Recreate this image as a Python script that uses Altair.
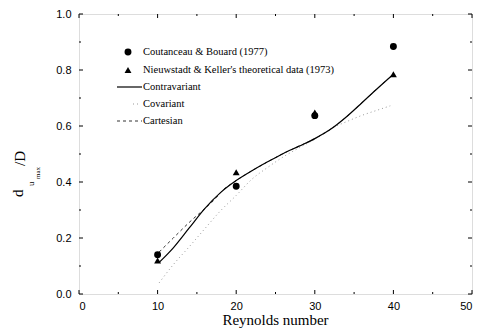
import altair as alt
import pandas as pd

# ---- data ----
re_exp = [10, 20, 30, 40]
coutanceau = [0.14, 0.385, 0.637, 0.884]
nieuwstadt = [0.12, 0.435, 0.648, 0.785]

contra_re = [10.2, 12, 14, 16, 18, 20, 22, 24, 26, 28, 30, 32, 34, 36, 38, 40]
contra_val = [0.113, 0.165, 0.235, 0.305, 0.362, 0.405, 0.44, 0.472, 0.502, 0.528, 0.555, 0.588, 0.632, 0.683, 0.735, 0.785]

cov_re = [10.2, 12, 14, 16, 18, 20, 22, 24, 26, 28, 30, 32, 34, 36, 38, 39.6]
cov_val = [0.04, 0.105, 0.168, 0.233, 0.297, 0.352, 0.41, 0.452, 0.49, 0.522, 0.553, 0.59, 0.615, 0.638, 0.657, 0.672]

cart_re = [10.2, 12, 14, 16, 17.5, 18, 20, 22, 24, 26, 28, 30, 32, 34, 36, 38, 40]
cart_val = [0.15, 0.20, 0.255, 0.305, 0.345, 0.362, 0.405, 0.44, 0.472, 0.502, 0.528, 0.555, 0.588, 0.632, 0.683, 0.735, 0.785]

x_major = [0, 10, 20, 30, 40, 50]
x_minor = [5, 15, 25, 35, 45]
y_major = [0.0, 0.2, 0.4, 0.6, 0.8, 1.0]
y_minor = [0.1, 0.3, 0.5, 0.7, 0.9]

legend_labels = [
    "Coutanceau & Bouard (1977)",
    "Nieuwstadt & Keller's theoretical data (1973)",
    "Contravariant",
    "Covariant",
    "Cartesian",
]

W, H = 393, 280
SERIF = "Liberation Serif"
SANS = "Liberation Sans"

xs = alt.Scale(domain=[0, 50], nice=False, zero=False)
ys = alt.Scale(domain=[0, 1.0], nice=False, zero=False)

xaxis = alt.Axis(values=x_major, format="d", title=None, ticks=False, domain=False,
                 grid=False, labelFont=SANS, labelFontSize=11, labelColor="black",
                 labelPadding=6)
yaxis = alt.Axis(values=y_major, format=".1f", title=None, ticks=False, domain=False,
                 grid=False, labelFont=SANS, labelFontSize=11, labelColor="black",
                 labelPadding=8)

exp_df = pd.DataFrame({"re": re_exp, "c": coutanceau, "n": nieuwstadt})
contra_df = pd.DataFrame({"re": contra_re, "v": contra_val})
cov_df = pd.DataFrame({"re": cov_re, "v": cov_val})
cart_df = pd.DataFrame({"re": cart_re, "v": cart_val})

base_axes = alt.Chart(exp_df).mark_point(opacity=0).encode(
    x=alt.X("re:Q", scale=xs, axis=xaxis),
    y=alt.Y("c:Q", scale=ys, axis=yaxis),
)

cart_line = alt.Chart(cart_df).mark_line(
    color="#333333", strokeWidth=1.0, strokeDash=[3, 3], interpolate="monotone"
).encode(x=alt.X("re:Q", scale=xs), y=alt.Y("v:Q", scale=ys))

cov_line = alt.Chart(cov_df).mark_line(
    color="#999999", strokeWidth=1.0, strokeDash=[1, 3], interpolate="monotone"
).encode(x=alt.X("re:Q", scale=xs), y=alt.Y("v:Q", scale=ys))

contra_line = alt.Chart(contra_df).mark_line(
    color="black", strokeWidth=1.2, interpolate="monotone"
).encode(x=alt.X("re:Q", scale=xs), y=alt.Y("v:Q", scale=ys))

circles = alt.Chart(exp_df).mark_point(
    shape="circle", filled=True, color="black", size=48, opacity=1
).encode(x=alt.X("re:Q", scale=xs), y=alt.Y("c:Q", scale=ys))

triangles = alt.Chart(exp_df).mark_point(
    shape="triangle-up", filled=True, color="black", size=48, opacity=1
).encode(x=alt.X("re:Q", scale=xs), y=alt.Y("n:Q", scale=ys))

# ---- inward ticks on all four sides ----
def xticks(vals, length):
    d = pd.DataFrame({"t": vals})
    bottom = alt.Chart(d).mark_rule(color="black", strokeWidth=1).encode(
        x=alt.X("t:Q", scale=xs), y=alt.value(H), y2=alt.value(H - length))
    top = alt.Chart(d).mark_rule(color="black", strokeWidth=1).encode(
        x=alt.X("t:Q", scale=xs), y=alt.value(0), y2=alt.value(length))
    return [bottom, top]

def yticks(vals, length):
    d = pd.DataFrame({"t": vals})
    left = alt.Chart(d).mark_rule(color="black", strokeWidth=1).encode(
        y=alt.Y("t:Q", scale=ys), x=alt.value(0), x2=alt.value(length))
    right = alt.Chart(d).mark_rule(color="black", strokeWidth=1).encode(
        y=alt.Y("t:Q", scale=ys), x=alt.value(W), x2=alt.value(W - length))
    return [left, right]

tick_layers = xticks(x_major, 4) + xticks(x_minor, 2) + yticks(y_major, 4) + yticks(y_minor, 2)

# ---- legend (inside the plot, top-left) ----
row_y = [38, 56, 73, 90, 107]
sym_x = 49
text_x = 64
legend_layers = []
for label, yy in zip(legend_labels, row_y):
    legend_layers.append(
        alt.Chart(pd.DataFrame({"label": [label]})).mark_text(
            font=SERIF, fontSize=10.5, align="left", baseline="middle", color="black"
        ).encode(text="label:N", x=alt.value(text_x), y=alt.value(yy))
    )
one = pd.DataFrame({"k": [0]})
legend_layers.append(alt.Chart(one).mark_point(shape="circle", filled=True, color="black",
                                               size=48, opacity=1).encode(
    x=alt.value(sym_x), y=alt.value(row_y[0])))
legend_layers.append(alt.Chart(one).mark_point(shape="triangle-up", filled=True, color="black",
                                               size=48, opacity=1).encode(
    x=alt.value(sym_x), y=alt.value(row_y[1])))
legend_layers.append(alt.Chart(one).mark_rule(color="black", strokeWidth=1.2).encode(
    x=alt.value(38), x2=alt.value(63), y=alt.value(row_y[2])))
legend_layers.append(alt.Chart(one).mark_rule(color="#999999", strokeWidth=1.0,
                                              strokeDash=[1, 3]).encode(
    x=alt.value(54), x2=alt.value(62), y=alt.value(row_y[3])))
legend_layers.append(alt.Chart(one).mark_rule(color="#333333", strokeWidth=1.0,
                                              strokeDash=[3, 3]).encode(
    x=alt.value(38), x2=alt.value(63), y=alt.value(row_y[4])))

# ---- axis titles ----
x_title = alt.Chart(pd.DataFrame({"t": ["Reynolds number"]})).mark_text(
    font=SERIF, fontSize=15, align="center", baseline="alphabetic", color="black"
).encode(text="t:N", x=alt.value(W / 2), y=alt.value(311))

def ytitle_piece(txt, size, bx, sy):
    return alt.Chart(pd.DataFrame({"t": [txt]})).mark_text(
        font=SERIF, fontSize=size, align="left", baseline="alphabetic", angle=270,
        color="black"
    ).encode(text="t:N", x=alt.value(bx), y=alt.value(sy))

y_title = [
    ytitle_piece("d", 15, -56, 183),
    ytitle_piece("u", 9, -45, 172),
    ytitle_piece("max", 7, -39, 165),
    ytitle_piece("/D", 15, -54, 152),
]

chart = alt.layer(
    base_axes, cart_line, cov_line, contra_line, circles, triangles,
    *tick_layers, *legend_layers, x_title, *y_title
).properties(
    width=W, height=H,
    autosize=alt.AutoSizeParams(type="none"),
    padding={"left": 79, "top": 14, "right": 481 - 79 - W, "bottom": 333 - 14 - H},
).configure_view(stroke="black", strokeWidth=1.5).configure(background="white")

chart.save("out.html", embed_options={"renderer": "svg", "actions": False})
